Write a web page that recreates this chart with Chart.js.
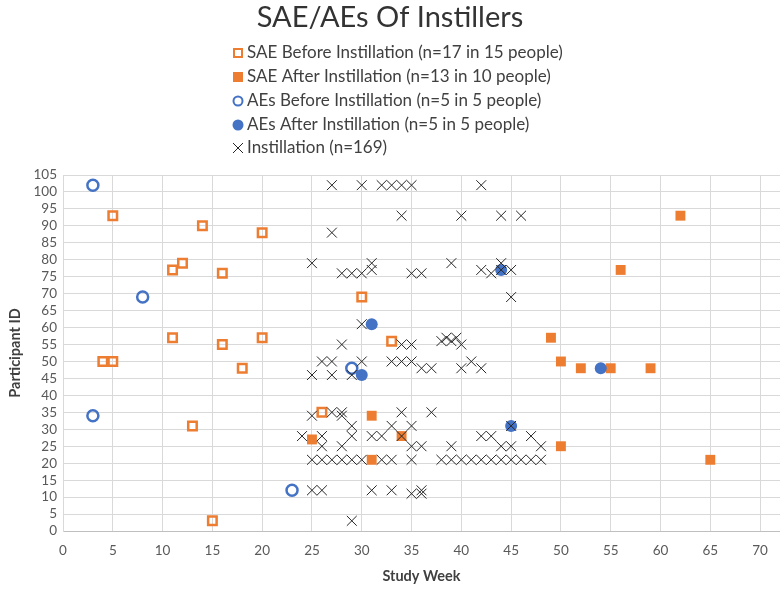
<!DOCTYPE html>
<html>
<head>
<meta charset="utf-8">
<script src="https://cdn.jsdelivr.net/npm/chart.js@4.4.1/dist/chart.umd.min.js"></script>
<style>
  html, body { margin: 0; padding: 0; background: #fff; }
  #wrap { width: 780px; height: 589px; }
</style>
</head>
<body>
<div id="wrap"><canvas id="grafica" width="780" height="589"></canvas></div>
<script>
// Datos: semana de estudio (x) e ID del participante (y)
const semanasSaeAntes = [5, 14, 20, 12, 11, 16, 30, 11, 16, 20, 33, 4, 5, 18, 26, 13, 15];
const idsSaeAntes     = [93, 90, 88, 79, 77, 76, 69, 57, 55, 57, 56, 50, 50, 48, 35, 31, 3];

const semanasSaeDespues = [62, 56, 49, 50, 52, 55, 59, 31, 34, 25, 50, 31, 65];
const idsSaeDespues     = [93, 77, 57, 50, 48, 48, 48, 34, 28, 27, 25, 21, 21];

const semanasAesAntes = [3, 8, 29, 3, 23];
const idsAesAntes     = [102, 69, 48, 34, 12];

const semanasAesDespues = [44, 31, 54, 30, 45];
const idsAesDespues     = [77, 61, 48, 46, 31];

const semanasInstilacion = [
  27, 30, 32, 33, 34, 35, 42,
  34, 40, 44, 46,
  27,
  25, 31, 39, 44,
  31, 42, 44, 45,
  28, 29, 30, 35, 36, 43,
  45,
  30,
  38, 38.5, 39, 39.5, 40,
  28, 34, 35,
  26, 27, 30, 33, 34, 35, 41,
  36, 37, 40, 42,
  25, 27, 29,
  27, 28, 34, 37, 25, 28,
  29, 33, 35, 45,
  24, 26, 29, 31, 32, 34, 42, 43, 47,
  26, 28, 35, 36, 39, 44, 45, 48,
  25, 26, 27, 28, 29, 30, 32, 33, 35, 38, 39, 40, 41, 42, 43, 44, 45, 46, 47, 48,
  25, 26, 31, 33, 36,
  35, 36,
  29
];
const idsInstilacion = [
  102, 102, 102, 102, 102, 102, 102,
  93, 93, 93, 93,
  88,
  79, 79, 79, 79,
  77, 77, 77, 77,
  76, 76, 76, 76, 76, 76,
  69,
  61,
  56, 57, 56, 57, 55,
  55, 55, 55,
  50, 50, 50, 50, 50, 50, 50,
  48, 48, 48, 48,
  46, 46, 46,
  35, 35, 35, 35, 34, 34,
  31, 31, 31, 31,
  28, 28, 28, 28, 28, 28, 28, 28, 28,
  25, 25, 25, 25, 25, 25, 25, 25,
  21, 21, 21, 21, 21, 21, 21, 21, 21, 21, 21, 21, 21, 21, 21, 21, 21, 21, 21, 21,
  12, 12, 12, 12, 12,
  11, 11,
  3
];

// Marcas de los ejes
const ticksSemana = [0, 5, 10, 15, 20, 25, 30, 35, 40, 45, 50, 55, 60, 65, 70];
const ticksId = [0, 5, 10, 15, 20, 25, 30, 35, 40, 45, 50, 55, 60, 65, 70, 75, 80, 85, 90, 95, 100, 105];

const etiquetas = [
  'SAE Before Instillation (n=17 in 15 people)',
  'SAE After Instillation (n=13 in 10 people)',
  'AEs Before Instillation (n=5 in 5 people)',
  'AEs After Instillation (n=5 in 5 people)',
  'Instillation (n=169)'
];

const naranja = '#ED7D31';
const azul = '#4472C4';
const negro = '#262626';

function puntos(xs, ys) {
  return xs.map((x, i) => ({ x: x, y: ys[i] }));
}

// Leyenda vertical dibujada a mano (una entrada por línea, como en la figura)
const leyendaPlugin = {
  id: 'leyendaVertical',
  afterDraw(chart) {
    const ctx = chart.ctx;
    const xMarca = 238;
    const xTexto = 247;
    const filas = [53, 77, 101, 125, 148];
    ctx.save();
    ctx.font = '17px Lato';
    ctx.textBaseline = 'middle';
    ctx.textAlign = 'left';
    filas.forEach((y, i) => {
      ctx.beginPath();
      if (i === 0) {
        ctx.strokeStyle = naranja; ctx.lineWidth = 2;
        ctx.strokeRect(xMarca - 4, y - 4, 8, 8);
      } else if (i === 1) {
        ctx.fillStyle = naranja;
        ctx.fillRect(xMarca - 5, y - 5, 10, 10);
      } else if (i === 2) {
        ctx.strokeStyle = azul; ctx.lineWidth = 2;
        ctx.arc(xMarca, y, 4.5, 0, Math.PI * 2);
        ctx.stroke();
      } else if (i === 3) {
        ctx.fillStyle = azul;
        ctx.arc(xMarca, y, 5.5, 0, Math.PI * 2);
        ctx.fill();
      } else {
        ctx.strokeStyle = negro; ctx.lineWidth = 1;
        ctx.moveTo(xMarca - 5, y - 5); ctx.lineTo(xMarca + 5, y + 5);
        ctx.moveTo(xMarca + 5, y - 5); ctx.lineTo(xMarca - 5, y + 5);
        ctx.stroke();
      }
      ctx.fillStyle = '#404040';
      ctx.fillText(etiquetas[i], xTexto, y);
    });
    ctx.restore();
  }
};

const ctx = document.getElementById('grafica').getContext('2d');
new Chart(ctx, {
  type: 'scatter',
  data: {
    datasets: [
      {
        label: etiquetas[4],
        data: puntos(semanasInstilacion, idsInstilacion),
        pointStyle: 'crossRot',
        pointRadius: 7,
        borderColor: negro,
        backgroundColor: negro,
        pointBorderWidth: 1,
        order: 0
      },
      {
        label: etiquetas[3],
        data: puntos(semanasAesDespues, idsAesDespues),
        pointStyle: 'circle',
        pointRadius: 6,
        backgroundColor: azul,
        borderColor: azul,
        pointBorderWidth: 0,
        order: 1
      },
      {
        label: etiquetas[2],
        data: puntos(semanasAesAntes, idsAesAntes),
        pointStyle: 'circle',
        pointRadius: 5.5,
        backgroundColor: 'rgba(0,0,0,0)',
        borderColor: azul,
        pointBorderWidth: 2.5,
        order: 2
      },
      {
        label: etiquetas[1],
        data: puntos(semanasSaeDespues, idsSaeDespues),
        pointStyle: 'rect',
        pointRadius: 7,
        backgroundColor: naranja,
        borderColor: naranja,
        pointBorderWidth: 0,
        order: 3
      },
      {
        label: etiquetas[0],
        data: puntos(semanasSaeAntes, idsSaeAntes),
        pointStyle: 'rect',
        pointRadius: 6,
        backgroundColor: 'rgba(0,0,0,0)',
        borderColor: naranja,
        pointBorderWidth: 2.5,
        order: 4
      }
    ]
  },
  options: {
    responsive: false,
    animation: false,
    devicePixelRatio: 1,
    layout: { autoPadding: false, padding: { left: 0, right: 0, top: 0, bottom: 0 } },
    plugins: {
      legend: { display: false },
      tooltip: { enabled: false },
      title: {
        display: true,
        text: 'SAE/AEs Of Instillers',
        color: '#333333',
        font: { family: 'Lato', size: 29, weight: 'normal' },
        padding: { top: 0, bottom: 140.2 }
      }
    },
    scales: {
      x: {
        type: 'linear',
        min: 0,
        max: 72, // la figura está recortada a la derecha
        afterFit: s => { s.height = 58; s.paddingRight = 0; },
        afterBuildTicks: s => { s.ticks = ticksSemana.map(v => ({ value: v })); },
        ticks: { autoSkip: false, color: '#595959', font: { family: 'Lato', size: 13.5 }, padding: 12 },
        grid: { color: '#d9d9d9', drawTicks: false },
        border: { color: '#bfbfbf' },
        title: {
          display: true,
          text: 'Study Week',
          color: '#404040',
          font: { family: 'Lato', size: 14.5, weight: 'bold' },
          padding: { top: 0, bottom: 4.3 }
        }
      },
      y: {
        type: 'linear',
        min: 0,
        max: 105,
        afterFit: s => { s.width = 63; },
        afterBuildTicks: s => { s.ticks = ticksId.map(v => ({ value: v })); },
        ticks: { autoSkip: false, color: '#595959', font: { family: 'Lato', size: 13.5 }, padding: 6 },
        grid: { color: '#d9d9d9', drawTicks: false },
        border: { color: '#d9d9d9' },
        title: {
          display: true,
          text: 'Participant ID',
          color: '#404040',
          font: { family: 'Lato', size: 14.5, weight: 'bold' },
          padding: { top: 6.3, bottom: 0 }
        }
      }
    }
  },
  plugins: [leyendaPlugin]
});
</script>
</body>
</html>
